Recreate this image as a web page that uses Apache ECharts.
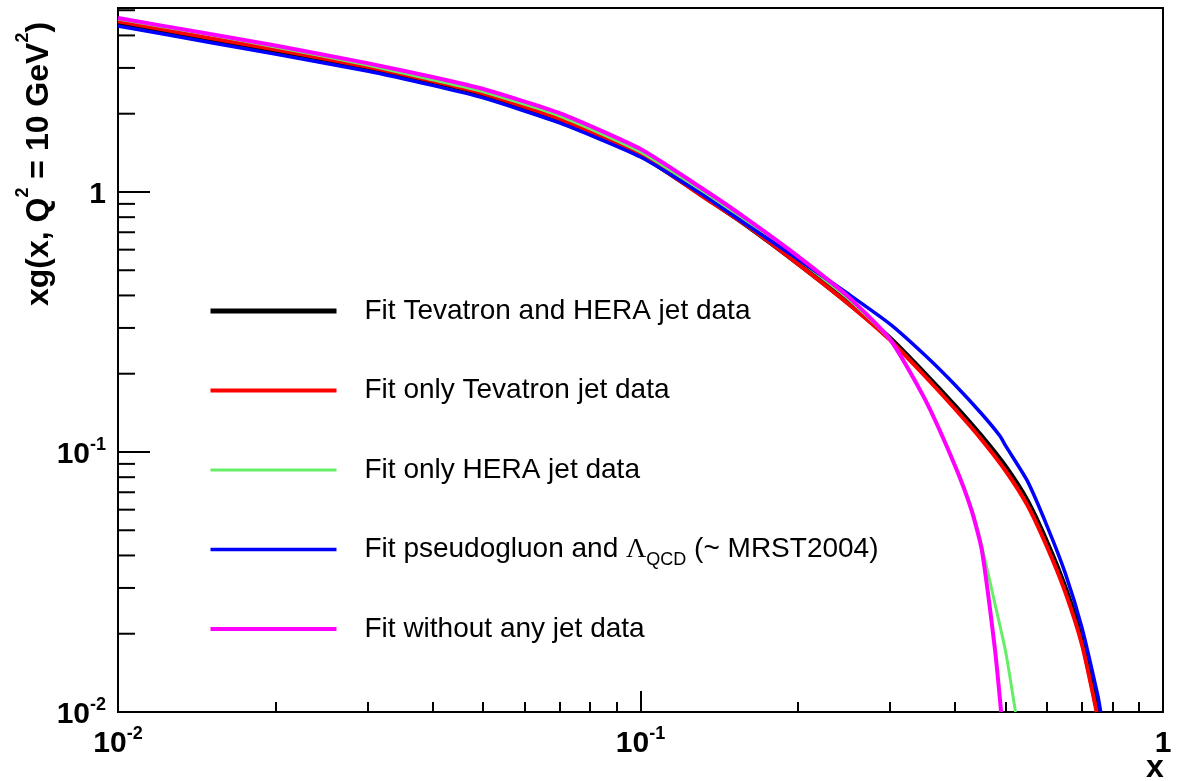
<!DOCTYPE html>
<html lang="en">
<head>
  <meta charset="UTF-8" />
  <title>xg(x, Q2 = 10 GeV2) fits</title>
  <script src="https://cdn.jsdelivr.net/npm/echarts@6.0.0/dist/echarts.min.js"></script>
  <style>
    html, body { margin: 0; padding: 0; background: #fff; }
  </style>
</head>
<body>
  <div id="main" style="width: 1179px; height: 781px;"></div>

  <script>
    const FONT = "'Liberation Sans', Arial, sans-serif";

    // series names (legend order)
    const seriesNames = [
      "Fit Tevatron and HERA jet data",
      "Fit only Tevatron jet data",
      "Fit only HERA jet data",
      "Fit pseudogluon and Lambda_QCD (~ MRST2004)",
      "Fit without any jet data"
    ];
    const seriesColors = ["#000000", "#ff0000", "#66ee66", "#0000ff", "#ff00ff"];
    const seriesWidths = [5, 4, 3, 3.5, 4];

    // values
    const xBoth = [0.01, 0.015, 0.02, 0.03, 0.04, 0.05, 0.07, 0.1, 0.13, 0.16, 0.2, 0.25, 0.3, 0.35, 0.4, 0.45, 0.5, 0.55, 0.6, 0.65, 0.7, 0.75];
    const yBoth = [4.46, 3.86, 3.50, 3.01, 2.66, 2.38, 1.90, 1.388, 0.985, 0.742, 0.532, 0.374, 0.274, 0.200, 0.150, 0.1145, 0.0875, 0.0648, 0.0448, 0.0300, 0.0188, 0.01];

    const xTevatron = [0.01, 0.015, 0.02, 0.03, 0.04, 0.05, 0.07, 0.1, 0.13, 0.16, 0.2, 0.25, 0.3, 0.35, 0.4, 0.45, 0.5, 0.55, 0.6, 0.65, 0.7, 0.7466];
    const yTevatron = [4.53, 3.91, 3.53, 3.03, 2.67, 2.39, 1.91, 1.388, 0.975, 0.740, 0.529, 0.371, 0.270, 0.196, 0.1463, 0.1113, 0.0845, 0.0625, 0.0431, 0.0289, 0.0181, 0.01];

    const xHera = [0.01, 0.015, 0.02, 0.03, 0.04, 0.05, 0.07, 0.1, 0.13, 0.16, 0.2, 0.25, 0.3, 0.35, 0.4, 0.43, 0.45, 0.477, 0.5, 0.522];
    const yHera = [4.63, 4.02, 3.61, 3.08, 2.70, 2.43, 1.96, 1.425, 1.018, 0.767, 0.552, 0.388, 0.270, 0.160, 0.0891, 0.0609, 0.0435, 0.026, 0.017, 0.01];

    const xPseudo = [0.01, 0.015, 0.02, 0.03, 0.04, 0.05, 0.07, 0.1, 0.13, 0.16, 0.2, 0.25, 0.3, 0.35, 0.4, 0.45, 0.4875, 0.5, 0.55, 0.6, 0.65, 0.7, 0.75, 0.76];
    const yPseudo = [4.35, 3.76, 3.39, 2.92, 2.57, 2.30, 1.843, 1.363, 0.990, 0.746, 0.552, 0.405, 0.311, 0.236, 0.181, 0.140, 0.1152, 0.1055, 0.0774, 0.0519, 0.0342, 0.0210, 0.0116, 0.01];

    const xNoJet = [0.01, 0.015, 0.02, 0.03, 0.04, 0.05, 0.07, 0.1, 0.13, 0.16, 0.2, 0.25, 0.3, 0.35, 0.4, 0.43, 0.45, 0.477, 0.49];
    const yNoJet = [4.67, 4.05, 3.66, 3.13, 2.77, 2.49, 2.01, 1.463, 1.045, 0.787, 0.567, 0.395, 0.272, 0.160, 0.0884, 0.0598, 0.042, 0.0173, 0.01];

    // log axis minor tick positions on y (top decade is partial)
    const yMinorTicks = [0.02, 0.03, 0.04, 0.05, 0.06, 0.07, 0.08, 0.09,
      0.2, 0.3, 0.4, 0.5, 0.6, 0.7, 0.8, 0.9, 2, 3, 4, 5];

    const curves = [
      [xBoth, yBoth], [xTevatron, yTevatron], [xHera, yHera], [xPseudo, yPseudo], [xNoJet, yNoJet]
    ];

    const tickRich = {
      b: { fontSize: 30, fontWeight: "bold", lineHeight: 38, fontFamily: FONT, color: "#000" },
      s: { fontSize: 18, fontWeight: "bold", lineHeight: 18, verticalAlign: "top", fontFamily: FONT, color: "#000" }
    };
    function powLabel(v) {
      const e = Math.round(Math.log10(v));
      if (e === 0) return "{b|1}";
      return "{b|10}{s|" + e + "}";
    }

    const myChart = echarts.init(document.getElementById("main"));

    const lineSeries = seriesNames.map((name, i) => ({
      name: name,
      type: "line",
      data: curves[i][0].map((x, j) => [x, curves[i][1][j]]),
      showSymbol: false,
      symbol: "none",
      smooth: 0.2,
      color: seriesColors[i],
      lineStyle: { color: seriesColors[i], width: seriesWidths[i] },
      z: 2 + i
    }));

    // minor ticks on the y axis, placed through the axis scale
    const yMinorSeries = {
      type: "custom",
      silent: true,
      clip: false,
      z: 10,
      data: yMinorTicks.map((v) => [0.01, v]),
      renderItem: (params, api) => {
        const p = api.coord([api.value(0), api.value(1)]);
        return {
          type: "line",
          shape: { x1: p[0], y1: p[1], x2: p[0] + 17, y2: p[1] },
          style: { stroke: "#000", lineWidth: 2 }
        };
      }
    };

    const option = {
      animation: false,
      grid: {
        left: 118, right: 16, top: 8, bottom: 69,
        show: true, borderColor: "#000", borderWidth: 2,
        outerBoundsMode: "none"
      },
      xAxis: {
        type: "log",
        logBase: 10,
        min: 0.01,
        max: 1,
        axisLine: { lineStyle: { color: "#000", width: 2 } },
        axisTick: { inside: true, length: 21, lineStyle: { color: "#000", width: 2 } },
        minorTick: { show: true, splitNumber: 9, length: 10, lineStyle: { color: "#000", width: 2 } },
        splitLine: { show: false },
        axisLabel: { margin: 13, formatter: powLabel, rich: tickRich }
      },
      yAxis: {
        type: "log",
        logBase: 10,
        min: 0.01,
        max: 5.1,
        axisLine: { lineStyle: { color: "#000", width: 2 } },
        axisTick: { inside: true, length: 32, lineStyle: { color: "#000", width: 2 } },
        minorTick: { show: false },
        splitLine: { show: false },
        axisLabel: {
          margin: 12, showMaxLabel: false, padding: [6, 0, 0, 0],
          formatter: powLabel, rich: tickRich
        }
      },
      legend: {
        orient: "vertical",
        left: 208,
        top: 291,
        padding: 0,
        itemWidth: 126,
        itemHeight: 40,
        itemGap: 39.5,
        data: seriesNames,
        itemStyle: { opacity: 0, borderWidth: 0 },
        lineStyle: { width: "inherit" },
        formatter: (name) => name === seriesNames[3]
          ? "Fit pseudogluon and {l|\u039B}{sub|QCD} (~ MRST2004)"
          : name,
        textStyle: {
          fontFamily: FONT,
          fontSize: 28,
          lineHeight: 40,
          color: "#000",
          padding: [0, 0, 0, 23],
          rich: {
            l: { fontFamily: "'Liberation Serif', 'DejaVu Serif', serif", fontSize: 28, lineHeight: 40, color: "#000" },
            sub: { fontFamily: FONT, fontSize: 18, lineHeight: 18, verticalAlign: "bottom", color: "#000" }
          }
        }
      },
      graphic: {
        elements: [
          {
            type: "text",
            x: 39,
            y: 164,
            rotation: Math.PI / 2,
            style: {
              text: "xg(x, Q{s|2} = 10 GeV{s|2})",
              fontFamily: FONT,
              fontSize: 32,
              fontWeight: "bold",
              lineHeight: 50,
              fill: "#000",
              align: "center",
              verticalAlign: "middle",
              rich: {
                s: { fontFamily: FONT, fontSize: 18, fontWeight: "bold", lineHeight: 20, verticalAlign: "top", fill: "#000" }
              }
            }
          },
          {
            type: "text",
            x: 1155,
            y: 768,
            style: {
              text: "x",
              fontFamily: FONT,
              fontSize: 32,
              fontWeight: "bold",
              fill: "#000",
              align: "center",
              verticalAlign: "middle"
            }
          }
        ]
      },
      series: lineSeries.concat([yMinorSeries])
    };

    myChart.setOption(option);
  </script>
</body>
</html>
